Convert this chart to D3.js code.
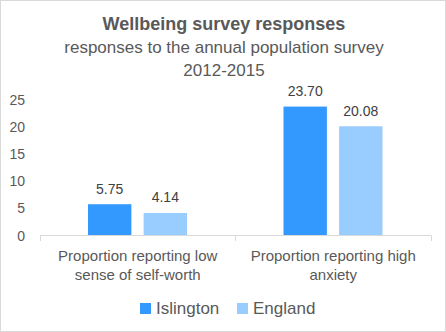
<!DOCTYPE html>
<html>
<head>
<meta charset="utf-8">
<script src="https://cdn.jsdelivr.net/npm/d3@7"></script>
<style>
  html, body { margin: 0; padding: 0; background: #fff; }
  svg { display: block; font-family: "Liberation Sans", Arial, sans-serif; }
</style>
</head>
<body>
<svg width="446" height="332"></svg>
<script>
// Chart data
const categories = [
  ['Proportion reporting low', 'sense of self-worth'],
  ['Proportion reporting high', 'anxiety']
];
const seriesNames = ['Islington', 'England'];
const islington = [5.75, 23.70];
const england = [4.14, 20.08];
const yTicks = [0, 5, 10, 15, 20, 25];
const colors = ['#3399ff', '#99ccff'];

const svg = d3.select('svg');
const width = 446;
const height = 332;
const textColor = '#595959';

// Outer border
svg.append('rect')
  .attr('x', 0.5).attr('y', 0.5)
  .attr('width', width - 1).attr('height', height - 1)
  .attr('fill', '#fff').attr('stroke', '#d9d9d9');

// Titles
svg.append('text')
  .attr('x', 224).attr('y', 30)
  .attr('text-anchor', 'middle')
  .attr('font-size', 18).attr('font-weight', 'bold')
  .attr('fill', textColor)
  .text('Wellbeing survey responses');
svg.append('text')
  .attr('x', 224).attr('y', 53)
  .attr('text-anchor', 'middle')
  .attr('font-size', 17)
  .attr('fill', textColor)
  .text('responses to the annual population survey');
svg.append('text')
  .attr('x', 224).attr('y', 76)
  .attr('text-anchor', 'middle')
  .attr('font-size', 17)
  .attr('fill', textColor)
  .text('2012-2015');

// Scales
const x0 = d3.scaleBand()
  .domain(d3.range(categories.length))
  .range([40, 431]);
const x1 = d3.scaleBand()
  .domain(seriesNames)
  .range([48, 147])
  .paddingInner(0.22);
const y = d3.scaleLinear()
  .domain([0, 25])
  .range([235.5, 99.5]);

// Y axis labels (no line)
svg.append('g')
  .selectAll('text')
  .data(yTicks)
  .join('text')
  .attr('x', 25)
  .attr('y', d => y(d) + 5)
  .attr('text-anchor', 'end')
  .attr('font-size', 14)
  .attr('fill', textColor)
  .text(d => d);

// Bars
const rows = seriesNames.map((name, s) => ({
  name,
  values: s === 0 ? islington : england
}));

rows.forEach((row, s) => {
  const g = svg.append('g');
  g.selectAll('rect')
    .data(row.values)
    .join('rect')
    .attr('x', (d, i) => x0(i) + x1(row.name))
    .attr('y', d => y(d))
    .attr('width', x1.bandwidth())
    .attr('height', d => y(0) - y(d))
    .attr('fill', colors[s]);
  g.selectAll('text')
    .data(row.values)
    .join('text')
    .attr('x', (d, i) => x0(i) + x1(row.name) + x1.bandwidth() / 2)
    .attr('y', d => y(d) - 10.5)
    .attr('text-anchor', 'middle')
    .attr('font-size', 14)
    .attr('fill', '#404040')
    .text(d => d.toFixed(2));
});

// X axis with category dividers
const xAxis = svg.append('g');
xAxis.append('line')
  .attr('x1', 40).attr('x2', 431)
  .attr('y1', 235.5).attr('y2', 235.5)
  .attr('stroke', '#d9d9d9');
xAxis.selectAll('line.tick')
  .data([40, 235, 431])
  .join('line')
  .attr('class', 'tick')
  .attr('x1', d => d + 0.5).attr('x2', d => d + 0.5)
  .attr('y1', 235.5).attr('y2', 241)
  .attr('stroke', '#d9d9d9');

categories.forEach((lines, i) => {
  const t = xAxis.append('text')
    .attr('text-anchor', 'middle')
    .attr('font-size', 15)
    .attr('fill', textColor);
  lines.forEach((line, j) => {
    t.append('tspan')
      .attr('x', x0(i) + x0.bandwidth() / 2)
      .attr('y', 261 + j * 18.5)
      .text(line);
  });
});

// Legend
const legend = svg.append('g');
const legendX = [140, 237];
seriesNames.forEach((name, s) => {
  legend.append('rect')
    .attr('x', legendX[s]).attr('y', 303)
    .attr('width', 11).attr('height', 11)
    .attr('fill', colors[s]);
  legend.append('text')
    .attr('x', legendX[s] + 16).attr('y', 314)
    .attr('font-size', 17)
    .attr('fill', textColor)
    .text(name);
});
</script>
</body>
</html>
